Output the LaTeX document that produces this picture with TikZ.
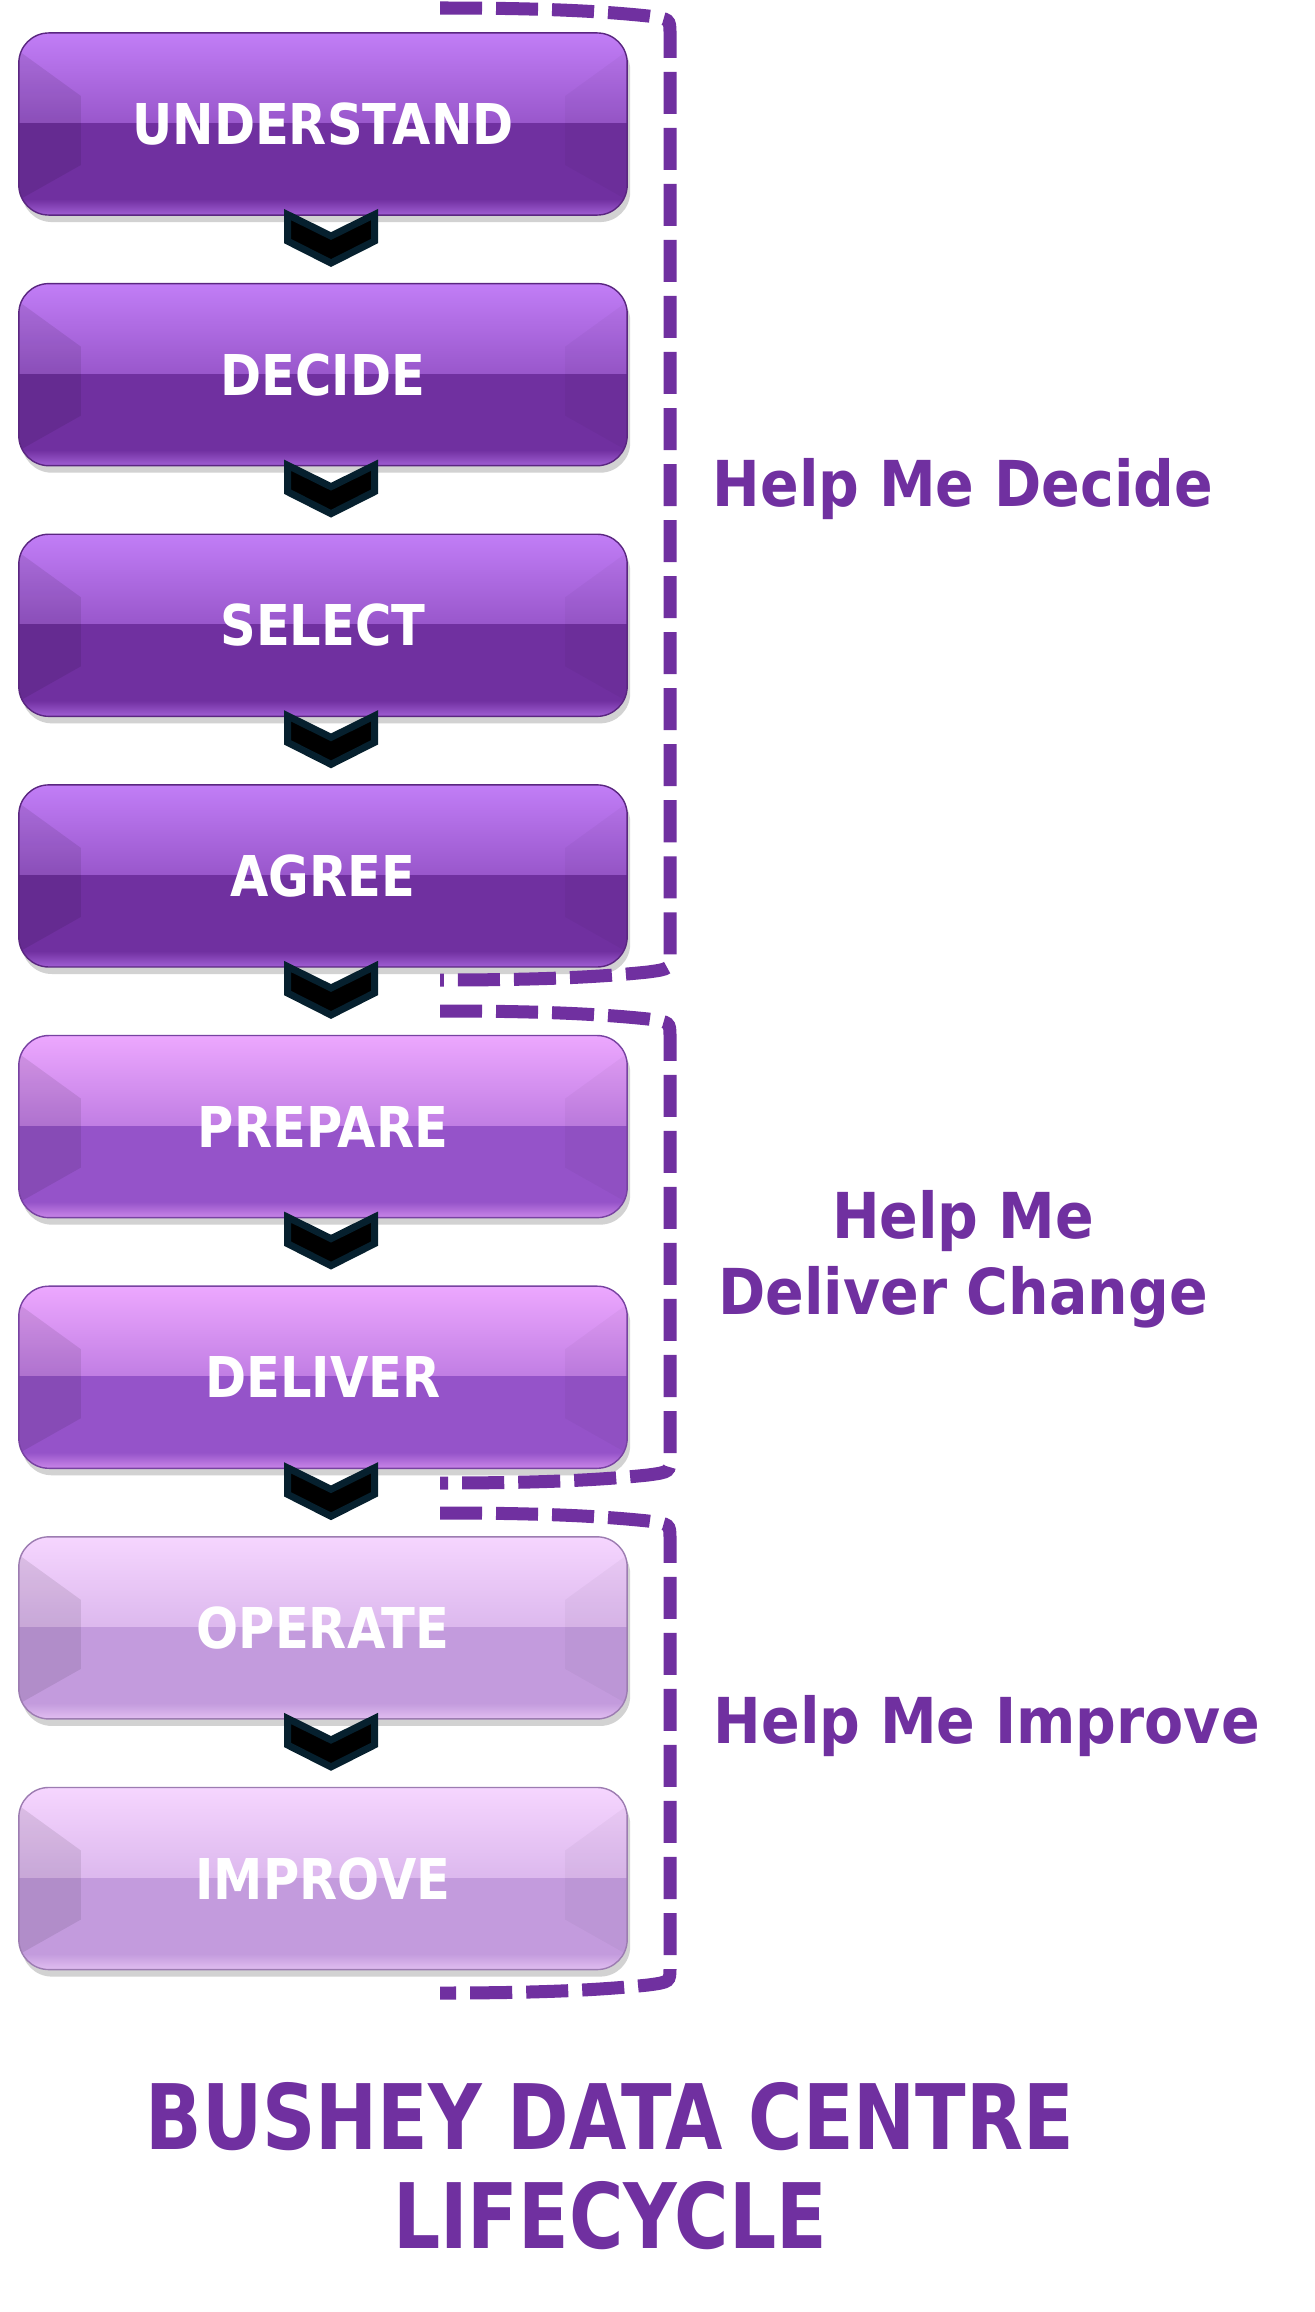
\documentclass[tikz,border=0pt]{standalone}
\usepackage{fontspec}
\setmainfont{DejaVu Sans}
\newfontfamily\boxfont[FakeStretch=0.88]{DejaVu Sans}
\newfontfamily\labelfont[FakeStretch=0.9]{DejaVu Sans}
\newfontfamily\titlefont[FakeStretch=0.82]{DejaVu Sans}
\usetikzlibrary{positioning,shadows,calc,fadings}

\definecolor{lifePurple}{HTML}{7030A0}
\definecolor{decideTop}{HTML}{C27EF7}
\definecolor{deliverBase}{HTML}{9553C9}
\definecolor{deliverTop}{HTML}{EDA8FF}
\definecolor{improveBase}{HTML}{C39BDD}
\definecolor{improveTop}{HTML}{F6D6FF}
\definecolor{chevronEdge}{HTML}{06202E}

\begin{document}
\begin{tikzpicture}[x=0.01cm, y=-0.01cm, node distance=0.685cm]
\path[fill=white, use as bounding box] (0,0) rectangle (1314,2312);

\tikzset{stage/.style 2 args={rectangle, rounded corners=0.3cm, minimum width=6.08cm,
  minimum height=1.82cm, inner sep=0pt, outer sep=0pt, fill=#1, draw=#1!80!black,
  line width=0.4pt, text=white, font=\boxfont\bfseries\fontsize{16}{19}\selectfont,
  drop shadow={shadow xshift=0.03cm, shadow yshift=-0.07cm, opacity=0.25, fill=black!70},
  path picture={
    \fill[sharp corners, #2, path fading=south] (path picture bounding box.north west)
      rectangle ([yshift=-0.9cm]path picture bounding box.north east);
    \fill[sharp corners, black, opacity=0.09] ([yshift=-0.18cm]path picture bounding box.north west)
      -- ++(0.62cm,-0.45cm) -- ([shift={(0.62cm,0.5cm)}]path picture bounding box.south west)
      -- ([yshift=0.15cm]path picture bounding box.south west) -- cycle;
    \fill[sharp corners, black, opacity=0.03] ([yshift=-0.18cm]path picture bounding box.north east)
      -- ++(-0.62cm,-0.45cm) -- ([shift={(-0.62cm,0.5cm)}]path picture bounding box.south east)
      -- ([yshift=0.15cm]path picture bounding box.south east) -- cycle;
    \fill[sharp corners, #2, opacity=0.6, path fading=north] ([yshift=0.16cm]path picture bounding box.south west)
      rectangle (path picture bounding box.south east);
  }}}
\tikzstyle{decide stage}=[stage={lifePurple}{decideTop}]
\tikzstyle{deliver stage}=[stage={deliverBase}{deliverTop}]
\tikzstyle{improve stage}=[stage={improveBase}{improveTop}]
\tikzstyle{chevron}=[fill=black, draw=chevronEdge, line width=0.07cm, line join=miter]
\tikzstyle{phase brace}=[draw=lifePurple, line width=0.13cm, dash pattern=on 0.42cm off 0.14cm]
\tikzstyle{phase label}=[text=lifePurple, inner sep=0pt,
  font=\labelfont\bfseries\fontsize{18}{21.5}\selectfont]

% Lifecycle stages
\node[decide stage] (understand) at (323,124) {UNDERSTAND};
\node[decide stage, below=of understand] (decide) {DECIDE};
\node[decide stage, below=of decide] (select) {SELECT};
\node[decide stage, below=of select] (agree) {AGREE};
\node[deliver stage, below=of agree] (prepare) {PREPARE};
\node[deliver stage, below=of prepare] (deliver) {DELIVER};
\node[improve stage, below=of deliver] (operate) {OPERATE};
\node[improve stage, below=of operate] (improve) {IMPROVE};

% Chevrons between the stages
\foreach \source/\dest in {understand/decide, decide/select, select/agree, agree/prepare,
  prepare/deliver, deliver/operate, operate/improve}
\draw[chevron, shift={($(\source.south)+(8,-4)$)}]
  (-43.5,3.5) -- (-43.5,30) -- (0,52) -- (43.5,30) -- (43.5,3.5) -- (0,25) -- cycle;

% Dashed braces round each phase
\foreach \ya/\yb in {8/980, 1011/1483, 1513/1993}
\draw[phase brace] (440,\ya) .. controls (540,\ya) and (600,\ya+3) .. (648,\ya+8)
  .. controls (670,\ya+11) .. (670,\ya+26) -- (670,\yb-26)
  .. controls (670,\yb-11) .. (648,\yb-8) .. controls (600,\yb-3) and (540,\yb) .. (440,\yb);

% Phase labels
\node[phase label, anchor=base west] (decideLabel) at (712,506) {Help Me Decide};
\node[phase label, anchor=base, align=center] (deliverLabel) at (963,1314) {Help Me\\Deliver Change};
\node[phase label, anchor=base west] (improveLabel) at (713,1743) {Help Me Improve};

% Title
\node[text=lifePurple, inner sep=0pt, anchor=base, align=center,
  font=\titlefont\bfseries\fontsize{25.7}{28}\selectfont] (title) at (610,2248)
  {BUSHEY DATA CENTRE\\LIFECYCLE};

\end{tikzpicture}
\end{document}
